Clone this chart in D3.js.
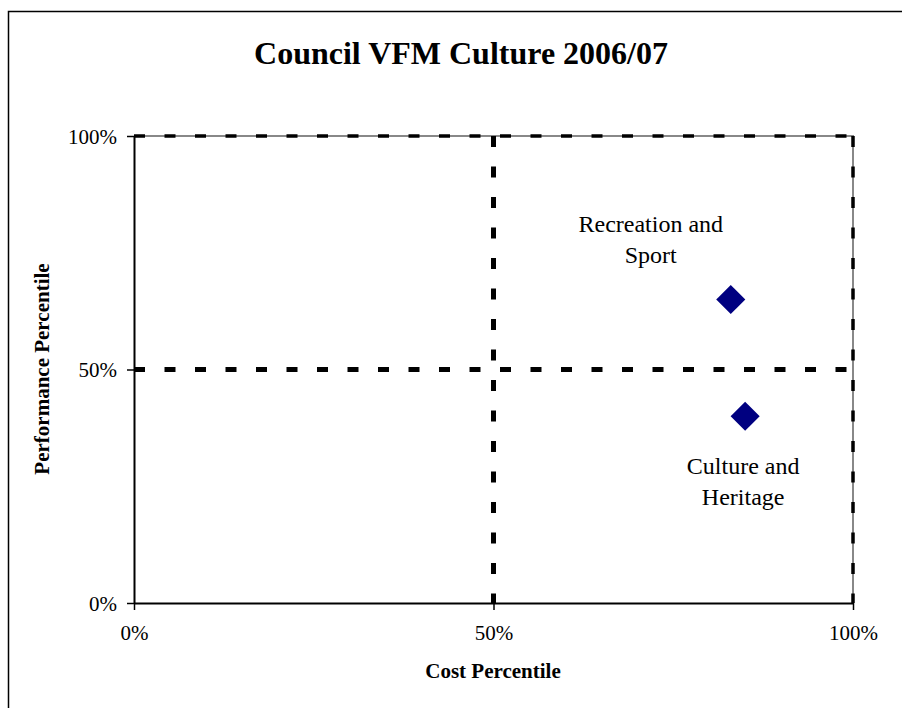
<!DOCTYPE html>
<html>
<head>
<meta charset="utf-8">
<script src="https://cdnjs.cloudflare.com/ajax/libs/d3/7.8.5/d3.min.js"></script>
<style>
  html, body { margin: 0; padding: 0; background: #fff; }
  svg { display: block; font-family: "Liberation Serif", "Times New Roman", serif; }
</style>
</head>
<body>
<svg class="board" width="902" height="708"></svg>
<script>
// data
var services = ['Recreation and Sport', 'Culture and Heritage'];
var costPct = [0.83, 0.85];
var perfPct = [0.65, 0.40];
var tickValues = [0, 0.5, 1];
var tickLabels = ['0%', '50%', '100%'];

// label placement (pixels relative to the point), kept apart from the data
var labelOffset = [{ dx: -80, dy: -67 }, { dx: -2, dy: 58 }];

var svg = d3.select('.board');
var plot = { left: 134, right: 853, top: 136, bottom: 603 };

var x = d3.scaleLinear().domain([0, 1]).range([plot.left, plot.right]);
var y = d3.scaleLinear().domain([0, 1]).range([plot.bottom, plot.top]);

// outer chart frame (runs off the right/bottom edge)
svg.append('rect')
  .attr('x', 8.5).attr('y', 11.5)
  .attr('width', 910).attr('height', 720)
  .attr('fill', 'none').attr('stroke', '#000').attr('stroke-width', 1.5);

svg.append('text')
  .attr('x', 461).attr('y', 64)
  .attr('text-anchor', 'middle')
  .attr('font-size', 32).attr('font-weight', 'bold')
  .text('Council VFM Culture 2006/07');

// plot area border (grey top/right)
svg.append('path')
  .attr('d', 'M' + x(0) + ',' + y(1) + 'H' + x(1) + 'V' + y(0))
  .attr('fill', 'none').attr('stroke', '#888').attr('stroke-width', 2);

// dashed quadrant lines at 50% and 100%
var grid = svg.append('g').attr('class', 'grid');
grid.selectAll('.hline').data([0.5, 1]).enter().append('line').classed('hline', true)
  .attr('x1', x(0)).attr('x2', x(1))
  .attr('y1', d => y(d)).attr('y2', d => y(d))
  .attr('stroke', '#000').attr('stroke-width', d => d === 1 ? 3.5 : 5)
  .attr('stroke-dasharray', '11 19.5');
grid.selectAll('.vline').data([0.5, 1]).enter().append('line').classed('vline', true)
  .attr('y1', y(1)).attr('y2', y(0))
  .attr('x1', d => x(d)).attr('x2', d => x(d))
  .attr('stroke', '#000').attr('stroke-width', d => d === 1 ? 3.5 : 5)
  .attr('stroke-dasharray', '11 19.5');

// axes
var fmt = (d, i) => tickLabels[i];
var xAxis = svg.append('g')
  .attr('transform', 'translate(0,' + y(0) + ')')
  .call(d3.axisBottom(x).tickValues(tickValues).tickFormat(fmt).tickSize(7).tickPadding(15).tickSizeOuter(0));
var yAxis = svg.append('g')
  .attr('transform', 'translate(' + x(0) + ',0)')
  .call(d3.axisLeft(y).tickValues(tickValues).tickFormat(fmt).tickSize(7).tickPadding(10).tickSizeOuter(0));

[xAxis, yAxis].forEach(function (ax) {
  ax.select('.domain').attr('stroke', '#000').attr('stroke-width', 2);
  ax.selectAll('.tick line').attr('stroke', '#000').attr('stroke-width', 1.5);
  ax.selectAll('.tick text')
    .attr('font-family', '"Liberation Serif", serif')
    .attr('font-size', 21).attr('fill', '#000');
});
yAxis.selectAll('.tick text').attr('dy', '0.35em');

// axis titles
svg.append('text')
  .attr('x', 493).attr('y', 678)
  .attr('text-anchor', 'middle')
  .attr('font-size', 21).attr('font-weight', 'bold')
  .text('Cost Percentile');
svg.append('text')
  .attr('transform', 'translate(49,369) rotate(-90)')
  .attr('text-anchor', 'middle')
  .attr('font-size', 21).attr('font-weight', 'bold')
  .text('Performance Percentile');

// points
var points = services.map((s, i) => ({ name: s, cost: costPct[i], perf: perfPct[i], off: labelOffset[i] }));
var diamond = d3.symbol().type(d3.symbolDiamond2).size(540);

var pts = svg.append('g').selectAll('.pt').data(points).enter().append('g').classed('pt', true)
  .attr('transform', d => 'translate(' + x(d.cost) + ',' + y(d.perf) + ')');
pts.append('path')
  .attr('d', diamond)
  .attr('fill', '#000080');

// data labels (two lines)
var lbl = pts.append('text')
  .attr('text-anchor', 'middle')
  .attr('font-size', 24)
  .attr('x', d => d.off.dx)
  .attr('y', d => d.off.dy);
lbl.selectAll('tspan')
  .data(d => {
    var w = d.name.split(' ');
    return [w.slice(0, 2).join(' '), w.slice(2).join(' ')].map(t => ({ t: t, dx: d.off.dx }));
  })
  .enter().append('tspan')
  .attr('x', d => d.dx)
  .attr('dy', (d, i) => i === 0 ? 0 : 31)
  .text(d => d.t);
</script>
</body>
</html>
